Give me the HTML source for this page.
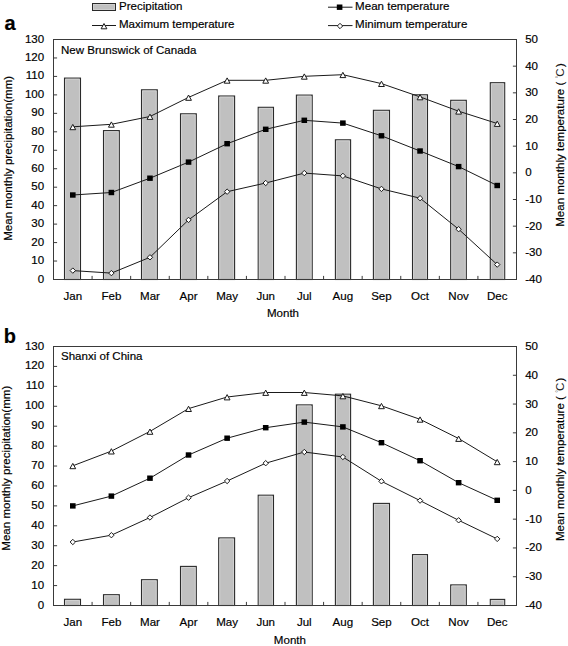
<!DOCTYPE html>
<html><head><meta charset="utf-8"><style>
html,body{margin:0;padding:0;background:#fff;}
svg{display:block;}
text{font-family:"Liberation Sans",sans-serif;font-size:11.55px;fill:#000;stroke:#000;stroke-width:0.18px;}
.lbl{font-weight:bold;font-size:20px;}
</style></head><body>
<svg width="568" height="646" viewBox="0 0 568 646">
<rect width="568" height="646" fill="#fff"/>
<rect x="92.5" y="3.5" width="23" height="7" fill="#c0c0c0" stroke="#2a2a2a"/>
<rect x="93.5" y="4.5" width="21" height="5" fill="none" stroke="#d2d2d2" stroke-width="0.8"/>
<text x="119" y="9.8">Precipitation</text>
<line x1="92" y1="25.5" x2="116" y2="25.5" stroke="#1a1a1a"/>
<path d="M104 23.5 L106.9 28.8 L101.1 28.8 Z" fill="#fff" stroke="#1a1a1a" stroke-width="1"/>
<text x="119" y="28.2">Maximum temperature</text>
<line x1="328" y1="7.2" x2="352.5" y2="7.2" stroke="#1a1a1a"/>
<rect x="336.8" y="4.5" width="5.6" height="5.4" fill="#000"/>
<text x="355.1" y="9.7">Mean temperature</text>
<line x1="328" y1="25.6" x2="352.5" y2="25.6" stroke="#1a1a1a"/>
<path d="M340 23.3 L342.7 26 L340 28.7 L337.3 26 Z" fill="#fff" stroke="#1a1a1a" stroke-width="1"/>
<text x="355.1" y="28.3">Minimum temperature</text>
<text class="lbl" x="4.6" y="29.6">a</text>
<text class="lbl" x="3.7" y="343">b</text>
<rect x="64.5" y="78.1" width="16" height="201.4" fill="#c0c0c0" stroke="#2a2a2a" stroke-width="1.1"/>
<path d="M65.6 279 V79.2 H79.4 V279" fill="none" stroke="#d2d2d2" stroke-width="0.9"/>
<rect x="103.5" y="130.6" width="15.8" height="148.9" fill="#c0c0c0" stroke="#2a2a2a" stroke-width="1.1"/>
<path d="M104.6 279 V131.7 H118.2 V279" fill="none" stroke="#d2d2d2" stroke-width="0.9"/>
<rect x="141.5" y="89.8" width="15.8" height="189.7" fill="#c0c0c0" stroke="#2a2a2a" stroke-width="1.1"/>
<path d="M142.6 279 V90.9 H156.2 V279" fill="none" stroke="#d2d2d2" stroke-width="0.9"/>
<rect x="180.5" y="113.8" width="15.8" height="165.7" fill="#c0c0c0" stroke="#2a2a2a" stroke-width="1.1"/>
<path d="M181.6 279 V114.9 H195.2 V279" fill="none" stroke="#d2d2d2" stroke-width="0.9"/>
<rect x="218.7" y="96" width="15.9" height="183.5" fill="#c0c0c0" stroke="#2a2a2a" stroke-width="1.1"/>
<path d="M219.8 279 V97.1 H233.5 V279" fill="none" stroke="#d2d2d2" stroke-width="0.9"/>
<rect x="258.2" y="107.3" width="15.3" height="172.2" fill="#c0c0c0" stroke="#2a2a2a" stroke-width="1.1"/>
<path d="M259.3 279 V108.4 H272.4 V279" fill="none" stroke="#d2d2d2" stroke-width="0.9"/>
<rect x="296.4" y="95.1" width="15.8" height="184.4" fill="#c0c0c0" stroke="#2a2a2a" stroke-width="1.1"/>
<path d="M297.5 279 V96.2 H311.1 V279" fill="none" stroke="#d2d2d2" stroke-width="0.9"/>
<rect x="335.4" y="139.8" width="15.2" height="139.7" fill="#c0c0c0" stroke="#2a2a2a" stroke-width="1.1"/>
<path d="M336.5 279 V140.9 H349.5 V279" fill="none" stroke="#d2d2d2" stroke-width="0.9"/>
<rect x="373.4" y="110.3" width="16.1" height="169.2" fill="#c0c0c0" stroke="#2a2a2a" stroke-width="1.1"/>
<path d="M374.5 279 V111.4 H388.4 V279" fill="none" stroke="#d2d2d2" stroke-width="0.9"/>
<rect x="412.5" y="94.8" width="15" height="184.7" fill="#c0c0c0" stroke="#2a2a2a" stroke-width="1.1"/>
<path d="M413.6 279 V95.9 H426.4 V279" fill="none" stroke="#d2d2d2" stroke-width="0.9"/>
<rect x="450.7" y="100.3" width="15.6" height="179.2" fill="#c0c0c0" stroke="#2a2a2a" stroke-width="1.1"/>
<path d="M451.8 279 V101.4 H465.2 V279" fill="none" stroke="#d2d2d2" stroke-width="0.9"/>
<rect x="490.3" y="82.7" width="14.4" height="196.8" fill="#c0c0c0" stroke="#2a2a2a" stroke-width="1.1"/>
<path d="M491.4 279 V83.8 H503.6 V279" fill="none" stroke="#d2d2d2" stroke-width="0.9"/>
<rect x="53.5" y="39.5" width="463" height="240" fill="none" stroke="#3a3a3a" stroke-width="1"/>
<line x1="53.5" y1="279.5" x2="57.1" y2="279.5" stroke="#3a3a3a"/>
<line x1="53.5" y1="261.04" x2="57.1" y2="261.04" stroke="#3a3a3a"/>
<line x1="53.5" y1="242.58" x2="57.1" y2="242.58" stroke="#3a3a3a"/>
<line x1="53.5" y1="224.12" x2="57.1" y2="224.12" stroke="#3a3a3a"/>
<line x1="53.5" y1="205.65" x2="57.1" y2="205.65" stroke="#3a3a3a"/>
<line x1="53.5" y1="187.19" x2="57.1" y2="187.19" stroke="#3a3a3a"/>
<line x1="53.5" y1="168.73" x2="57.1" y2="168.73" stroke="#3a3a3a"/>
<line x1="53.5" y1="150.27" x2="57.1" y2="150.27" stroke="#3a3a3a"/>
<line x1="53.5" y1="131.81" x2="57.1" y2="131.81" stroke="#3a3a3a"/>
<line x1="53.5" y1="113.35" x2="57.1" y2="113.35" stroke="#3a3a3a"/>
<line x1="53.5" y1="94.88" x2="57.1" y2="94.88" stroke="#3a3a3a"/>
<line x1="53.5" y1="76.42" x2="57.1" y2="76.42" stroke="#3a3a3a"/>
<line x1="53.5" y1="57.96" x2="57.1" y2="57.96" stroke="#3a3a3a"/>
<line x1="53.5" y1="39.5" x2="57.1" y2="39.5" stroke="#3a3a3a"/>
<line x1="516.5" y1="279.5" x2="512.9" y2="279.5" stroke="#3a3a3a"/>
<line x1="516.5" y1="252.83" x2="512.9" y2="252.83" stroke="#3a3a3a"/>
<line x1="516.5" y1="226.17" x2="512.9" y2="226.17" stroke="#3a3a3a"/>
<line x1="516.5" y1="199.5" x2="512.9" y2="199.5" stroke="#3a3a3a"/>
<line x1="516.5" y1="172.83" x2="512.9" y2="172.83" stroke="#3a3a3a"/>
<line x1="516.5" y1="146.17" x2="512.9" y2="146.17" stroke="#3a3a3a"/>
<line x1="516.5" y1="119.5" x2="512.9" y2="119.5" stroke="#3a3a3a"/>
<line x1="516.5" y1="92.83" x2="512.9" y2="92.83" stroke="#3a3a3a"/>
<line x1="516.5" y1="66.17" x2="512.9" y2="66.17" stroke="#3a3a3a"/>
<line x1="516.5" y1="39.5" x2="512.9" y2="39.5" stroke="#3a3a3a"/>
<line x1="92.08" y1="279.5" x2="92.08" y2="275.9" stroke="#3a3a3a"/>
<line x1="130.67" y1="279.5" x2="130.67" y2="275.9" stroke="#3a3a3a"/>
<line x1="169.25" y1="279.5" x2="169.25" y2="275.9" stroke="#3a3a3a"/>
<line x1="207.83" y1="279.5" x2="207.83" y2="275.9" stroke="#3a3a3a"/>
<line x1="246.42" y1="279.5" x2="246.42" y2="275.9" stroke="#3a3a3a"/>
<line x1="285" y1="279.5" x2="285" y2="275.9" stroke="#3a3a3a"/>
<line x1="323.58" y1="279.5" x2="323.58" y2="275.9" stroke="#3a3a3a"/>
<line x1="362.17" y1="279.5" x2="362.17" y2="275.9" stroke="#3a3a3a"/>
<line x1="400.75" y1="279.5" x2="400.75" y2="275.9" stroke="#3a3a3a"/>
<line x1="439.33" y1="279.5" x2="439.33" y2="275.9" stroke="#3a3a3a"/>
<line x1="477.92" y1="279.5" x2="477.92" y2="275.9" stroke="#3a3a3a"/>
<path d="M72.8 126.8 L111.38 124.3 L149.97 116.5 L188.55 97.4 L227.13 80.3 L265.71 80.3 L304.3 76.3 L342.88 74.7 L381.46 83.6 L420.05 96.9 L458.63 111.2 L497.21 123.5" fill="none" stroke="#1a1a1a" stroke-width="1"/>
<path d="M72.8 195 L111.38 192.5 L149.97 178.2 L188.55 162.1 L227.13 143.7 L265.71 129.3 L304.3 120.3 L342.88 123.1 L381.46 135.8 L420.05 151 L458.63 166.6 L497.21 185.5" fill="none" stroke="#1a1a1a" stroke-width="1"/>
<path d="M72.8 270.6 L111.38 273.1 L149.97 257.3 L188.55 219.9 L227.13 191.7 L265.71 183 L304.3 173.1 L342.88 175.9 L381.46 188.9 L420.05 198.2 L458.63 229.2 L497.21 264.6" fill="none" stroke="#1a1a1a" stroke-width="1"/>
<path d="M72.8 124.4 L75.7 129.7 L69.9 129.7 Z" fill="#fff" stroke="#1a1a1a" stroke-width="1"/>
<rect x="70" y="192.3" width="5.6" height="5.4" fill="#000"/>
<path d="M72.8 267.9 L75.5 270.6 L72.8 273.3 L70.1 270.6 Z" fill="#fff" stroke="#1a1a1a" stroke-width="1"/>
<path d="M111.38 121.9 L114.28 127.2 L108.48 127.2 Z" fill="#fff" stroke="#1a1a1a" stroke-width="1"/>
<rect x="108.58" y="189.8" width="5.6" height="5.4" fill="#000"/>
<path d="M111.38 270.4 L114.08 273.1 L111.38 275.8 L108.68 273.1 Z" fill="#fff" stroke="#1a1a1a" stroke-width="1"/>
<path d="M149.97 114.1 L152.87 119.4 L147.07 119.4 Z" fill="#fff" stroke="#1a1a1a" stroke-width="1"/>
<rect x="147.17" y="175.5" width="5.6" height="5.4" fill="#000"/>
<path d="M149.97 254.6 L152.67 257.3 L149.97 260 L147.27 257.3 Z" fill="#fff" stroke="#1a1a1a" stroke-width="1"/>
<path d="M188.55 95 L191.45 100.3 L185.65 100.3 Z" fill="#fff" stroke="#1a1a1a" stroke-width="1"/>
<rect x="185.75" y="159.4" width="5.6" height="5.4" fill="#000"/>
<path d="M188.55 217.2 L191.25 219.9 L188.55 222.6 L185.85 219.9 Z" fill="#fff" stroke="#1a1a1a" stroke-width="1"/>
<path d="M227.13 77.9 L230.03 83.2 L224.23 83.2 Z" fill="#fff" stroke="#1a1a1a" stroke-width="1"/>
<rect x="224.33" y="141" width="5.6" height="5.4" fill="#000"/>
<path d="M227.13 189 L229.83 191.7 L227.13 194.4 L224.43 191.7 Z" fill="#fff" stroke="#1a1a1a" stroke-width="1"/>
<path d="M265.71 77.9 L268.61 83.2 L262.81 83.2 Z" fill="#fff" stroke="#1a1a1a" stroke-width="1"/>
<rect x="262.91" y="126.6" width="5.6" height="5.4" fill="#000"/>
<path d="M265.71 180.3 L268.41 183 L265.71 185.7 L263.01 183 Z" fill="#fff" stroke="#1a1a1a" stroke-width="1"/>
<path d="M304.3 73.9 L307.2 79.2 L301.4 79.2 Z" fill="#fff" stroke="#1a1a1a" stroke-width="1"/>
<rect x="301.5" y="117.6" width="5.6" height="5.4" fill="#000"/>
<path d="M304.3 170.4 L307 173.1 L304.3 175.8 L301.6 173.1 Z" fill="#fff" stroke="#1a1a1a" stroke-width="1"/>
<path d="M342.88 72.3 L345.78 77.6 L339.98 77.6 Z" fill="#fff" stroke="#1a1a1a" stroke-width="1"/>
<rect x="340.08" y="120.4" width="5.6" height="5.4" fill="#000"/>
<path d="M342.88 173.2 L345.58 175.9 L342.88 178.6 L340.18 175.9 Z" fill="#fff" stroke="#1a1a1a" stroke-width="1"/>
<path d="M381.46 81.2 L384.36 86.5 L378.56 86.5 Z" fill="#fff" stroke="#1a1a1a" stroke-width="1"/>
<rect x="378.66" y="133.1" width="5.6" height="5.4" fill="#000"/>
<path d="M381.46 186.2 L384.16 188.9 L381.46 191.6 L378.76 188.9 Z" fill="#fff" stroke="#1a1a1a" stroke-width="1"/>
<path d="M420.05 94.5 L422.95 99.8 L417.15 99.8 Z" fill="#fff" stroke="#1a1a1a" stroke-width="1"/>
<rect x="417.25" y="148.3" width="5.6" height="5.4" fill="#000"/>
<path d="M420.05 195.5 L422.75 198.2 L420.05 200.9 L417.35 198.2 Z" fill="#fff" stroke="#1a1a1a" stroke-width="1"/>
<path d="M458.63 108.8 L461.53 114.1 L455.73 114.1 Z" fill="#fff" stroke="#1a1a1a" stroke-width="1"/>
<rect x="455.83" y="163.9" width="5.6" height="5.4" fill="#000"/>
<path d="M458.63 226.5 L461.33 229.2 L458.63 231.9 L455.93 229.2 Z" fill="#fff" stroke="#1a1a1a" stroke-width="1"/>
<path d="M497.21 121.1 L500.11 126.4 L494.31 126.4 Z" fill="#fff" stroke="#1a1a1a" stroke-width="1"/>
<rect x="494.41" y="182.8" width="5.6" height="5.4" fill="#000"/>
<path d="M497.21 261.9 L499.91 264.6 L497.21 267.3 L494.51 264.6 Z" fill="#fff" stroke="#1a1a1a" stroke-width="1"/>
<text x="44.2" y="282.5" text-anchor="end">0</text>
<text x="44.2" y="264.04" text-anchor="end">10</text>
<text x="44.2" y="245.58" text-anchor="end">20</text>
<text x="44.2" y="227.12" text-anchor="end">30</text>
<text x="44.2" y="208.65" text-anchor="end">40</text>
<text x="44.2" y="190.19" text-anchor="end">50</text>
<text x="44.2" y="171.73" text-anchor="end">60</text>
<text x="44.2" y="153.27" text-anchor="end">70</text>
<text x="44.2" y="134.81" text-anchor="end">80</text>
<text x="44.2" y="116.35" text-anchor="end">90</text>
<text x="44.2" y="97.88" text-anchor="end">100</text>
<text x="44.2" y="79.42" text-anchor="end">110</text>
<text x="44.2" y="60.96" text-anchor="end">120</text>
<text x="44.2" y="42.5" text-anchor="end">130</text>
<text x="525.2" y="283">-40</text>
<text x="525.2" y="256.33">-30</text>
<text x="525.2" y="229.67">-20</text>
<text x="525.2" y="203">-10</text>
<text x="525.2" y="176.33">0</text>
<text x="525.2" y="149.67">10</text>
<text x="525.2" y="123">20</text>
<text x="525.2" y="96.33">30</text>
<text x="525.2" y="69.67">40</text>
<text x="525.2" y="43">50</text>
<text x="72.8" y="299.8" text-anchor="middle">Jan</text>
<text x="111.38" y="299.8" text-anchor="middle">Feb</text>
<text x="149.97" y="299.8" text-anchor="middle">Mar</text>
<text x="188.55" y="299.8" text-anchor="middle">Apr</text>
<text x="227.13" y="299.8" text-anchor="middle">May</text>
<text x="265.71" y="299.8" text-anchor="middle">Jun</text>
<text x="304.3" y="299.8" text-anchor="middle">Jul</text>
<text x="342.88" y="299.8" text-anchor="middle">Aug</text>
<text x="381.46" y="299.8" text-anchor="middle">Sep</text>
<text x="420.05" y="299.8" text-anchor="middle">Oct</text>
<text x="458.63" y="299.8" text-anchor="middle">Nov</text>
<text x="497.21" y="299.8" text-anchor="middle">Dec</text>
<text x="283" y="316.5" text-anchor="middle">Month</text>
<text x="61" y="53.8">New Brunswick of Canada</text>
<text transform="translate(12.3 240.8) rotate(-90)">Mean monthly precipitation(mm)</text>
<text transform="translate(563.8 226.8) rotate(-90)">Mean monthly temperature ( <tspan font-size="7" dy="-3.2" fill="#555" stroke="none">&#176;</tspan><tspan dx="-0.9" dy="3.2" fill="#222" stroke="none">C</tspan><tspan dx="1.2">)</tspan></text>
<rect x="64.5" y="599.3" width="16" height="6.2" fill="#c0c0c0" stroke="#2a2a2a" stroke-width="1.1"/>
<path d="M65.6 605 V600.4 H79.4 V605" fill="none" stroke="#d2d2d2" stroke-width="0.9"/>
<rect x="103.5" y="594.7" width="15.8" height="10.8" fill="#c0c0c0" stroke="#2a2a2a" stroke-width="1.1"/>
<path d="M104.6 605 V595.8 H118.2 V605" fill="none" stroke="#d2d2d2" stroke-width="0.9"/>
<rect x="141.5" y="579.7" width="15.8" height="25.8" fill="#c0c0c0" stroke="#2a2a2a" stroke-width="1.1"/>
<path d="M142.6 605 V580.8 H156.2 V605" fill="none" stroke="#d2d2d2" stroke-width="0.9"/>
<rect x="180.5" y="566.4" width="15.8" height="39.1" fill="#c0c0c0" stroke="#2a2a2a" stroke-width="1.1"/>
<path d="M181.6 605 V567.5 H195.2 V605" fill="none" stroke="#d2d2d2" stroke-width="0.9"/>
<rect x="218.7" y="537.9" width="15.9" height="67.6" fill="#c0c0c0" stroke="#2a2a2a" stroke-width="1.1"/>
<path d="M219.8 605 V539 H233.5 V605" fill="none" stroke="#d2d2d2" stroke-width="0.9"/>
<rect x="258.2" y="495.2" width="15.3" height="110.3" fill="#c0c0c0" stroke="#2a2a2a" stroke-width="1.1"/>
<path d="M259.3 605 V496.3 H272.4 V605" fill="none" stroke="#d2d2d2" stroke-width="0.9"/>
<rect x="296.4" y="404.9" width="15.8" height="200.6" fill="#c0c0c0" stroke="#2a2a2a" stroke-width="1.1"/>
<path d="M297.5 605 V406 H311.1 V605" fill="none" stroke="#d2d2d2" stroke-width="0.9"/>
<rect x="335.4" y="394.2" width="15.2" height="211.3" fill="#c0c0c0" stroke="#2a2a2a" stroke-width="1.1"/>
<path d="M336.5 605 V395.3 H349.5 V605" fill="none" stroke="#d2d2d2" stroke-width="0.9"/>
<rect x="373.4" y="503.4" width="16.1" height="102.1" fill="#c0c0c0" stroke="#2a2a2a" stroke-width="1.1"/>
<path d="M374.5 605 V504.5 H388.4 V605" fill="none" stroke="#d2d2d2" stroke-width="0.9"/>
<rect x="412.5" y="554.6" width="15" height="50.9" fill="#c0c0c0" stroke="#2a2a2a" stroke-width="1.1"/>
<path d="M413.6 605 V555.7 H426.4 V605" fill="none" stroke="#d2d2d2" stroke-width="0.9"/>
<rect x="450.7" y="584.9" width="15.6" height="20.6" fill="#c0c0c0" stroke="#2a2a2a" stroke-width="1.1"/>
<path d="M451.8 605 V586 H465.2 V605" fill="none" stroke="#d2d2d2" stroke-width="0.9"/>
<rect x="490.3" y="599.4" width="14.4" height="6.1" fill="#c0c0c0" stroke="#2a2a2a" stroke-width="1.1"/>
<path d="M491.4 605 V600.5 H503.6 V605" fill="none" stroke="#d2d2d2" stroke-width="0.9"/>
<rect x="53.5" y="346.5" width="463" height="259" fill="none" stroke="#3a3a3a" stroke-width="1"/>
<line x1="53.5" y1="605.5" x2="57.1" y2="605.5" stroke="#3a3a3a"/>
<line x1="53.5" y1="585.58" x2="57.1" y2="585.58" stroke="#3a3a3a"/>
<line x1="53.5" y1="565.65" x2="57.1" y2="565.65" stroke="#3a3a3a"/>
<line x1="53.5" y1="545.73" x2="57.1" y2="545.73" stroke="#3a3a3a"/>
<line x1="53.5" y1="525.81" x2="57.1" y2="525.81" stroke="#3a3a3a"/>
<line x1="53.5" y1="505.88" x2="57.1" y2="505.88" stroke="#3a3a3a"/>
<line x1="53.5" y1="485.96" x2="57.1" y2="485.96" stroke="#3a3a3a"/>
<line x1="53.5" y1="466.04" x2="57.1" y2="466.04" stroke="#3a3a3a"/>
<line x1="53.5" y1="446.12" x2="57.1" y2="446.12" stroke="#3a3a3a"/>
<line x1="53.5" y1="426.19" x2="57.1" y2="426.19" stroke="#3a3a3a"/>
<line x1="53.5" y1="406.27" x2="57.1" y2="406.27" stroke="#3a3a3a"/>
<line x1="53.5" y1="386.35" x2="57.1" y2="386.35" stroke="#3a3a3a"/>
<line x1="53.5" y1="366.42" x2="57.1" y2="366.42" stroke="#3a3a3a"/>
<line x1="53.5" y1="346.5" x2="57.1" y2="346.5" stroke="#3a3a3a"/>
<line x1="516.5" y1="605.5" x2="512.9" y2="605.5" stroke="#3a3a3a"/>
<line x1="516.5" y1="576.72" x2="512.9" y2="576.72" stroke="#3a3a3a"/>
<line x1="516.5" y1="547.94" x2="512.9" y2="547.94" stroke="#3a3a3a"/>
<line x1="516.5" y1="519.17" x2="512.9" y2="519.17" stroke="#3a3a3a"/>
<line x1="516.5" y1="490.39" x2="512.9" y2="490.39" stroke="#3a3a3a"/>
<line x1="516.5" y1="461.61" x2="512.9" y2="461.61" stroke="#3a3a3a"/>
<line x1="516.5" y1="432.83" x2="512.9" y2="432.83" stroke="#3a3a3a"/>
<line x1="516.5" y1="404.06" x2="512.9" y2="404.06" stroke="#3a3a3a"/>
<line x1="516.5" y1="375.28" x2="512.9" y2="375.28" stroke="#3a3a3a"/>
<line x1="516.5" y1="346.5" x2="512.9" y2="346.5" stroke="#3a3a3a"/>
<line x1="92.08" y1="605.5" x2="92.08" y2="601.9" stroke="#3a3a3a"/>
<line x1="130.67" y1="605.5" x2="130.67" y2="601.9" stroke="#3a3a3a"/>
<line x1="169.25" y1="605.5" x2="169.25" y2="601.9" stroke="#3a3a3a"/>
<line x1="207.83" y1="605.5" x2="207.83" y2="601.9" stroke="#3a3a3a"/>
<line x1="246.42" y1="605.5" x2="246.42" y2="601.9" stroke="#3a3a3a"/>
<line x1="285" y1="605.5" x2="285" y2="601.9" stroke="#3a3a3a"/>
<line x1="323.58" y1="605.5" x2="323.58" y2="601.9" stroke="#3a3a3a"/>
<line x1="362.17" y1="605.5" x2="362.17" y2="601.9" stroke="#3a3a3a"/>
<line x1="400.75" y1="605.5" x2="400.75" y2="601.9" stroke="#3a3a3a"/>
<line x1="439.33" y1="605.5" x2="439.33" y2="601.9" stroke="#3a3a3a"/>
<line x1="477.92" y1="605.5" x2="477.92" y2="601.9" stroke="#3a3a3a"/>
<path d="M72.8 465.8 L111.38 451.1 L149.97 431.4 L188.55 408.6 L227.13 397 L265.71 392.5 L304.3 392.5 L342.88 395.9 L381.46 405.8 L420.05 419.3 L458.63 438.5 L497.21 461.8" fill="none" stroke="#1a1a1a" stroke-width="1"/>
<path d="M72.8 505.9 L111.38 496.1 L149.97 478.2 L188.55 455 L227.13 438.2 L265.71 427.7 L304.3 422.1 L342.88 426.9 L381.46 442.7 L420.05 460.7 L458.63 482.7 L497.21 500.3" fill="none" stroke="#1a1a1a" stroke-width="1"/>
<path d="M72.8 542 L111.38 535.2 L149.97 517.5 L188.55 497.7 L227.13 481 L265.71 463.2 L304.3 452 L342.88 457 L381.46 481.3 L420.05 500.6 L458.63 520.3 L497.21 538.9" fill="none" stroke="#1a1a1a" stroke-width="1"/>
<path d="M72.8 463.4 L75.7 468.7 L69.9 468.7 Z" fill="#fff" stroke="#1a1a1a" stroke-width="1"/>
<rect x="70" y="503.2" width="5.6" height="5.4" fill="#000"/>
<path d="M72.8 539.3 L75.5 542 L72.8 544.7 L70.1 542 Z" fill="#fff" stroke="#1a1a1a" stroke-width="1"/>
<path d="M111.38 448.7 L114.28 454 L108.48 454 Z" fill="#fff" stroke="#1a1a1a" stroke-width="1"/>
<rect x="108.58" y="493.4" width="5.6" height="5.4" fill="#000"/>
<path d="M111.38 532.5 L114.08 535.2 L111.38 537.9 L108.68 535.2 Z" fill="#fff" stroke="#1a1a1a" stroke-width="1"/>
<path d="M149.97 429 L152.87 434.3 L147.07 434.3 Z" fill="#fff" stroke="#1a1a1a" stroke-width="1"/>
<rect x="147.17" y="475.5" width="5.6" height="5.4" fill="#000"/>
<path d="M149.97 514.8 L152.67 517.5 L149.97 520.2 L147.27 517.5 Z" fill="#fff" stroke="#1a1a1a" stroke-width="1"/>
<path d="M188.55 406.2 L191.45 411.5 L185.65 411.5 Z" fill="#fff" stroke="#1a1a1a" stroke-width="1"/>
<rect x="185.75" y="452.3" width="5.6" height="5.4" fill="#000"/>
<path d="M188.55 495 L191.25 497.7 L188.55 500.4 L185.85 497.7 Z" fill="#fff" stroke="#1a1a1a" stroke-width="1"/>
<path d="M227.13 394.6 L230.03 399.9 L224.23 399.9 Z" fill="#fff" stroke="#1a1a1a" stroke-width="1"/>
<rect x="224.33" y="435.5" width="5.6" height="5.4" fill="#000"/>
<path d="M227.13 478.3 L229.83 481 L227.13 483.7 L224.43 481 Z" fill="#fff" stroke="#1a1a1a" stroke-width="1"/>
<path d="M265.71 390.1 L268.61 395.4 L262.81 395.4 Z" fill="#fff" stroke="#1a1a1a" stroke-width="1"/>
<rect x="262.91" y="425" width="5.6" height="5.4" fill="#000"/>
<path d="M265.71 460.5 L268.41 463.2 L265.71 465.9 L263.01 463.2 Z" fill="#fff" stroke="#1a1a1a" stroke-width="1"/>
<path d="M304.3 390.1 L307.2 395.4 L301.4 395.4 Z" fill="#fff" stroke="#1a1a1a" stroke-width="1"/>
<rect x="301.5" y="419.4" width="5.6" height="5.4" fill="#000"/>
<path d="M304.3 449.3 L307 452 L304.3 454.7 L301.6 452 Z" fill="#fff" stroke="#1a1a1a" stroke-width="1"/>
<path d="M342.88 393.5 L345.78 398.8 L339.98 398.8 Z" fill="#fff" stroke="#1a1a1a" stroke-width="1"/>
<rect x="340.08" y="424.2" width="5.6" height="5.4" fill="#000"/>
<path d="M342.88 454.3 L345.58 457 L342.88 459.7 L340.18 457 Z" fill="#fff" stroke="#1a1a1a" stroke-width="1"/>
<path d="M381.46 403.4 L384.36 408.7 L378.56 408.7 Z" fill="#fff" stroke="#1a1a1a" stroke-width="1"/>
<rect x="378.66" y="440" width="5.6" height="5.4" fill="#000"/>
<path d="M381.46 478.6 L384.16 481.3 L381.46 484 L378.76 481.3 Z" fill="#fff" stroke="#1a1a1a" stroke-width="1"/>
<path d="M420.05 416.9 L422.95 422.2 L417.15 422.2 Z" fill="#fff" stroke="#1a1a1a" stroke-width="1"/>
<rect x="417.25" y="458" width="5.6" height="5.4" fill="#000"/>
<path d="M420.05 497.9 L422.75 500.6 L420.05 503.3 L417.35 500.6 Z" fill="#fff" stroke="#1a1a1a" stroke-width="1"/>
<path d="M458.63 436.1 L461.53 441.4 L455.73 441.4 Z" fill="#fff" stroke="#1a1a1a" stroke-width="1"/>
<rect x="455.83" y="480" width="5.6" height="5.4" fill="#000"/>
<path d="M458.63 517.6 L461.33 520.3 L458.63 523 L455.93 520.3 Z" fill="#fff" stroke="#1a1a1a" stroke-width="1"/>
<path d="M497.21 459.4 L500.11 464.7 L494.31 464.7 Z" fill="#fff" stroke="#1a1a1a" stroke-width="1"/>
<rect x="494.41" y="497.6" width="5.6" height="5.4" fill="#000"/>
<path d="M497.21 536.2 L499.91 538.9 L497.21 541.6 L494.51 538.9 Z" fill="#fff" stroke="#1a1a1a" stroke-width="1"/>
<text x="44.2" y="608.5" text-anchor="end">0</text>
<text x="44.2" y="588.58" text-anchor="end">10</text>
<text x="44.2" y="568.65" text-anchor="end">20</text>
<text x="44.2" y="548.73" text-anchor="end">30</text>
<text x="44.2" y="528.81" text-anchor="end">40</text>
<text x="44.2" y="508.88" text-anchor="end">50</text>
<text x="44.2" y="488.96" text-anchor="end">60</text>
<text x="44.2" y="469.04" text-anchor="end">70</text>
<text x="44.2" y="449.12" text-anchor="end">80</text>
<text x="44.2" y="429.19" text-anchor="end">90</text>
<text x="44.2" y="409.27" text-anchor="end">100</text>
<text x="44.2" y="389.35" text-anchor="end">110</text>
<text x="44.2" y="369.42" text-anchor="end">120</text>
<text x="44.2" y="349.5" text-anchor="end">130</text>
<text x="525.2" y="609">-40</text>
<text x="525.2" y="580.22">-30</text>
<text x="525.2" y="551.44">-20</text>
<text x="525.2" y="522.67">-10</text>
<text x="525.2" y="493.89">0</text>
<text x="525.2" y="465.11">10</text>
<text x="525.2" y="436.33">20</text>
<text x="525.2" y="407.56">30</text>
<text x="525.2" y="378.78">40</text>
<text x="525.2" y="350">50</text>
<text x="72.8" y="625.6" text-anchor="middle">Jan</text>
<text x="111.38" y="625.6" text-anchor="middle">Feb</text>
<text x="149.97" y="625.6" text-anchor="middle">Mar</text>
<text x="188.55" y="625.6" text-anchor="middle">Apr</text>
<text x="227.13" y="625.6" text-anchor="middle">May</text>
<text x="265.71" y="625.6" text-anchor="middle">Jun</text>
<text x="304.3" y="625.6" text-anchor="middle">Jul</text>
<text x="342.88" y="625.6" text-anchor="middle">Aug</text>
<text x="381.46" y="625.6" text-anchor="middle">Sep</text>
<text x="420.05" y="625.6" text-anchor="middle">Oct</text>
<text x="458.63" y="625.6" text-anchor="middle">Nov</text>
<text x="497.21" y="625.6" text-anchor="middle">Dec</text>
<text x="289.9" y="644.3" text-anchor="middle">Month</text>
<text x="61" y="360.4">Shanxi of China</text>
<text transform="translate(10 550.7) rotate(-90)">Mean monthly precipitation(mm)</text>
<text transform="translate(564.3 541.1) rotate(-90)">Mean monthly temperature ( <tspan font-size="7" dy="-3.2" fill="#555" stroke="none">&#176;</tspan><tspan dx="-0.9" dy="3.2" fill="#222" stroke="none">C</tspan><tspan dx="1.2">)</tspan></text>
</svg>
</body></html>
